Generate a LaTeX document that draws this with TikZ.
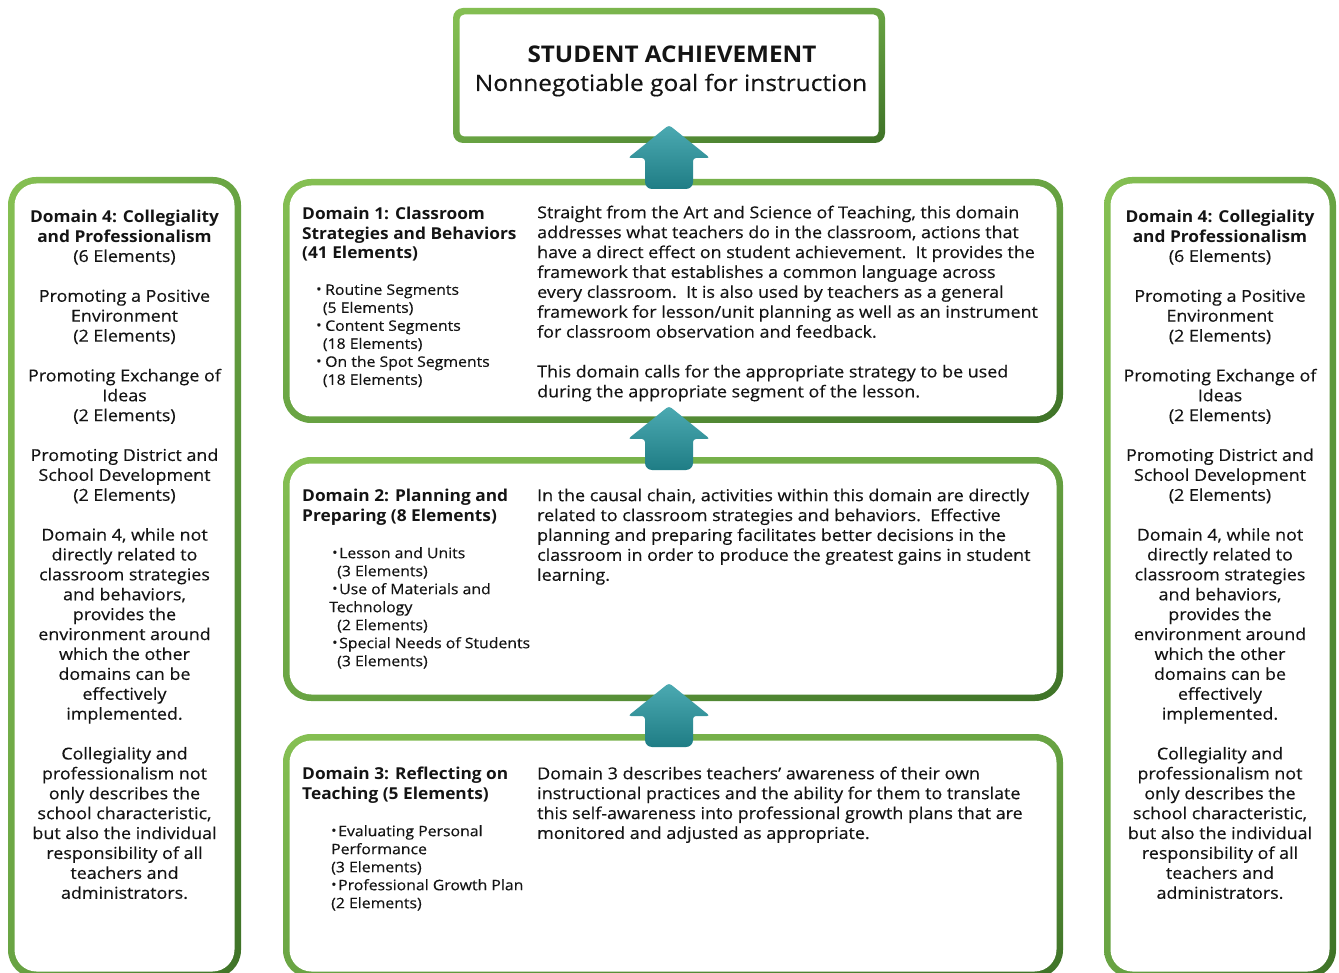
\documentclass[tikz,border=0pt]{standalone}
\usepackage{fontspec}
\setmainfont{Open Sans}[FakeStretch=1.09, UprightFeatures={FakeBold=0.35}, BoldFeatures={FakeStretch=1.055}]
\usetikzlibrary{calc,shadings}
\definecolor{gl}{HTML}{86C053}
\definecolor{gm}{HTML}{69A443}
\definecolor{gd}{HTML}{3E7227}
\definecolor{tl}{HTML}{4CAAB2}
\definecolor{td}{HTML}{1F7D85}
\definecolor{ink}{HTML}{141414}
\newcommand\greenbox[3]{%
  \shade[upper left=gl, upper right=gm, lower left=gm, lower right=gd, rounded corners=#2]
    (#1.north west) rectangle (#1.south east);
  \fill[white, rounded corners=#3]
    ([shift={(6.5,6.5)}]#1.north west) rectangle ([shift={(-6.5,-6.5)}]#1.south east);}
\newcommand\blockarrow[2]{% tip x, tip y
  \begin{scope}[shift={(#1,#2)}]
  \shade[top color=tl, bottom color=td]
    (0,0) [rounded corners=3pt] -- (41,33) -- (24,33) [rounded corners=7pt] -- (24,64) -- (-24,64)
    [rounded corners=3pt] -- (-24,33) -- (-41,33) -- cycle;
  \end{scope}}
\newcommand\bul[1]{\makebox[#1][l]{\raisebox{0.15ex}{\scalebox{0.9}{•}}}}
\begin{document}
\begin{tikzpicture}[x=1pt,y=-1pt,
  frame/.style={inner sep=0pt, outer sep=0pt, draw=none},
  body/.style={inner sep=0pt, anchor=north west, align=left, text=ink,
     font=\fontsize{16.4}{19.9}\selectfont},
  side/.style={inner sep=0pt, anchor=north, align=center, text=ink,
     font=\fontsize{16.4}{19.9}\selectfont},
  bull/.style={inner sep=0pt, anchor=north west, align=left, text=ink,
     font=\fontsize{14.5}{18}\selectfont},
  title/.style={inner sep=0pt, anchor=base, text=ink}]
\useasboundingbox[fill=white] (0,0) rectangle (1339,973);

% frames
\node[frame, minimum width=432pt, minimum height=135pt] (goal) at (669,75.5) {};
\node[frame, minimum width=233pt, minimum height=801pt] (left) at (124.5,577.5) {};
\node[frame, minimum width=232pt, minimum height=801pt] (right) at (1220,577.5) {};
\node[frame, minimum width=780pt, minimum height=244pt] (d1) at (673,301) {};
\node[frame, minimum width=780pt, minimum height=244pt] (d2) at (673,579) {};
\node[frame, minimum width=780pt, minimum height=244pt] (d3) at (673,856) {};

\greenbox{goal}{10pt}{5pt}
\greenbox{left}{28pt}{22pt}
\greenbox{right}{28pt}{22pt}
\greenbox{d1}{28pt}{22pt}
\greenbox{d2}{28pt}{22pt}
\greenbox{d3}{28pt}{22pt}

% arrows
\blockarrow{669}{125}
\blockarrow{669}{406}
\blockarrow{669}{683}

% goal text
\node[title, font=\bfseries\fontsize{23}{26}\selectfont] (g1) at (672,63) {STUDENT ACHIEVEMENT};
\node[title, font=\fontsize{22.5}{26}\selectfont] (g2) at (671,91) {Nonnegotiable goal for instruction};

% side columns
\newcommand\sidetext{\textbf{Domain 4: Collegiality}\\ \textbf{and Professionalism}\\ (6 Elements)\\[19.9pt]
Promoting a Positive\\ Environment\\ (2 Elements)\\[19.9pt]
Promoting Exchange of\\ Ideas\\ (2 Elements)\\[19.9pt]
Promoting District and\\ School Development\\ (2 Elements)\\[19.9pt]
Domain 4, while not\\ directly related to\\ classroom strategies\\ and behaviors,\\ provides the\\ environment around\\ which the other\\ domains can be\\ effectively\\ implemented.\\[19.9pt]
Collegiality and\\ professionalism not\\ only describes the\\ school characteristic,\\ but also the individual\\ responsibility of all\\ teachers and\\ administrators.}
\node[side] (ltext) at (124.5,209.5) {\sidetext};
\node[side] (rtext) at (1220,209.5) {\sidetext};

% Domain 1
\node[body] (d1t) at (302,206.5) {\textbf{Domain 1: Classroom}\\ \textbf{Strategies and Behaviors}\\ \textbf{(41 Elements)}};
\node[bull] (d1b) at (316,284) {\bul{9pt}Routine Segments\\ \hspace*{6.7pt}(5 Elements)\\
\bul{9pt}Content Segments\\ \hspace*{6.7pt}(18 Elements)\\
\bul{9pt}On the Spot Segments\\ \hspace*{6.7pt}(18 Elements)};
\node[body] (d1p) at (537,205.5) {Straight from the Art and Science of Teaching, this domain\\
addresses what teachers do in the classroom, actions that\\
have a direct effect on student achievement.\ \ It provides the\\
framework that establishes a common language across\\
every classroom.\ \ It is also used by teachers as a general\\
framework for lesson/unit planning as well as an instrument\\
for classroom observation and feedback.\\[19.9pt]
This domain calls for the appropriate strategy to be used\\
during the appropriate segment of the lesson.};

% Domain 2
\node[body] (d2t) at (302,488.5) {\textbf{Domain 2: Planning and}\\ \textbf{Preparing (8 Elements)}};
\node[bull] (d2b) at (321,547) {\hspace*{11pt}\bul{7pt}Lesson and Units\\ \hspace*{16pt}(3 Elements)\\
\hspace*{11pt}\bul{7pt}Use of Materials and\\ \hspace*{8pt}Technology\\ \hspace*{16pt}(2 Elements)\\
\hspace*{11pt}\bul{7pt}Special Needs of Students\\ \hspace*{16pt}(3 Elements)};
\node[body] (d2p) at (537,488.5) {In the causal chain, activities within this domain are directly\\
related to classroom strategies and behaviors.\ \ Effective\\
planning and preparing facilitates better decisions in the\\
classroom in order to produce the greatest gains in student\\
learning.};

% Domain 3
\node[body] (d3t) at (302,766.5) {\textbf{Domain 3: Reflecting on}\\ \textbf{Teaching (5 Elements)}};
\node[bull] (d3b) at (331,825) {\bul{7pt}Evaluating Personal\\ Performance\\ (3 Elements)\\
\bul{7pt}Professional Growth Plan\\ (2 Elements)};
\node[body] (d3p) at (537,766.5) {Domain 3 describes teachers’ awareness of their own\\
instructional practices and the ability for them to translate\\
this self-awareness into professional growth plans that are\\
monitored and adjusted as appropriate.};
\end{tikzpicture}
\end{document}
